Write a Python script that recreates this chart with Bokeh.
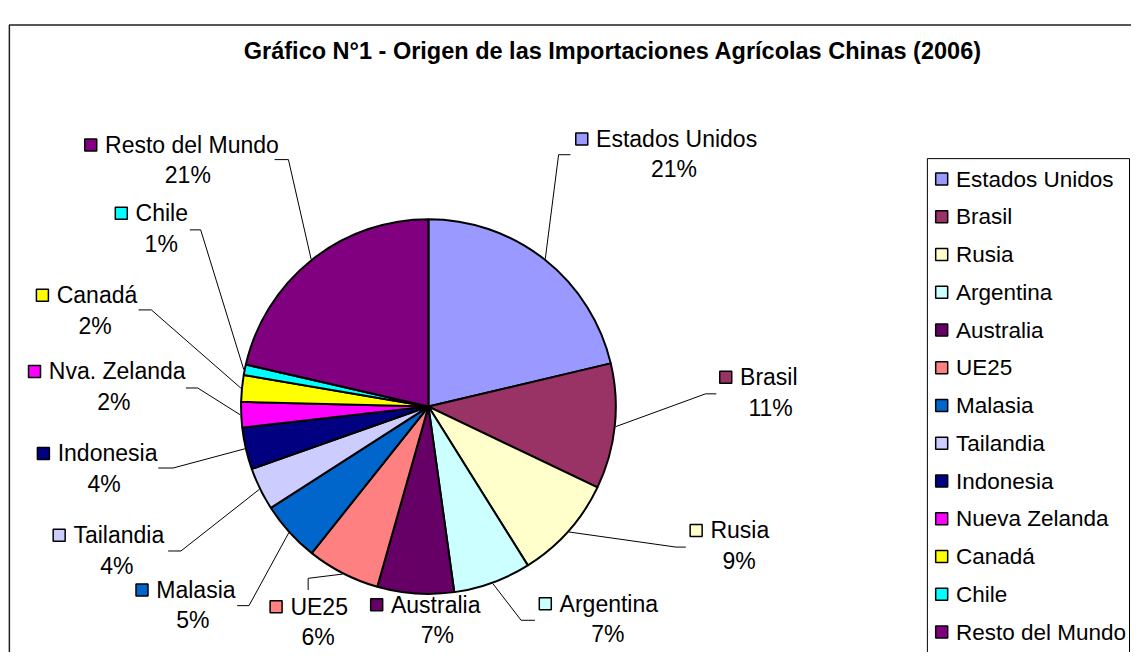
import math
from bokeh.plotting import figure
from bokeh.models import Range1d
from bokeh.core.properties import value
from bokeh.embed import file_html
from bokeh.resources import INLINE

# ---------------- data ----------------
title = "Gráfico N°1 - Origen de las Importaciones Agrícolas Chinas (2006)"
countries = ["Estados Unidos", "Brasil", "Rusia", "Argentina", "Australia", "UE25",
             "Malasia", "Tailandia", "Indonesia", "Nueva Zelanda", "Canadá", "Chile",
             "Resto del Mundo"]
label_names = ["Estados Unidos", "Brasil", "Rusia", "Argentina", "Australia", "UE25",
               "Malasia", "Tailandia", "Indonesia", "Nva. Zelanda", "Canadá", "Chile",
               "Resto del Mundo"]
shares = [21.3, 10.8, 9.0, 6.7, 6.6, 6.3, 5.2, 3.7, 3.6, 2.2, 2.3, 0.9, 21.4]
colors = ["#9999FF", "#993366", "#FFFFCC", "#CCFFFF", "#660066", "#FF8080", "#0066CC",
          "#CCCCFF", "#000080", "#FF00FF", "#FFFF00", "#00FFFF", "#800080"]

# ---------------- layout ----------------
W, H = 1131, 652
SX, SY = W / 1147, H / 668          # reference-window pixels -> canvas pixels

def PX(v):
    return v * SX

def PY(v):
    return H - v * SY

CX, CY, R = 434, 416, 191
RR = R * (SX + SY) / 2
FONT = value("Liberation Sans")
FS = "23px"

sq_x = [583, 729, 699, 546, 375, 273, 137, 53, 37, 28, 36, 116, 85]
name_y = [142, 386, 543, 618, 619, 621, 604, 548, 464, 380, 302, 218, 148]
pct_x = [683, 781, 749, 616, 443, 322, 195, 118, 105, 115, 96, 163, 190]
leader_elbow = [(566, 158), (715, 403), (685, 560), (528, 635), None, (312, 592),
                (252, 620), (183, 564), (175, 479), (200, 397), (153, 317), (203, 235), (292, 163)]
leader_end = [(578, 158), (726, 403), (695, 560), (542, 635), None, (312, 604),
              (240, 620), (170, 564), (160, 479), (188, 397), (140, 317), (192, 235), (278, 163)]

p = figure(width=W, height=H, x_range=Range1d(0, W), y_range=Range1d(0, H),
           output_backend="svg", toolbar_location=None, min_border=0,
           x_axis_type=None, y_axis_type=None)
p.xgrid.visible = False
p.ygrid.visible = False
p.outline_line_color = None
p.background_fill_color = "white"
p.border_fill_color = "white"

# chart frame
p.quad(left=[PX(9)], right=[W + 50], top=[PY(25)], bottom=[-50], fill_color=None,
       line_color="#202020", line_width=1.5)

# title
p.text(x=[PX(621)], y=[PY(52)], text=[title], text_font=FONT, text_font_size="23.5px",
       text_font_style="bold", text_align="center", text_baseline="middle", text_color="black")

# pie
total = sum(shares)
starts, ends, mids = [], [], []
cum = 0.0
for s in shares:
    a0 = math.pi / 2 - 2 * math.pi * cum / total
    cum += s
    a1 = math.pi / 2 - 2 * math.pi * cum / total
    starts.append(a1)
    ends.append(a0)
    mids.append((a0 + a1) / 2)
n = len(shares)
p.wedge(x=[PX(CX)] * n, y=[PY(CY)] * n, radius=RR,
        start_angle=starts, end_angle=ends, fill_color=colors,
        line_color="black", line_width=2)

pcts = [f"{int(s / total * 100 + 0.5)}%" for s in shares]

# leader lines
xs, ys = [], []
for m, el, en in zip(mids, leader_elbow, leader_end):
    if el is None:
        continue
    sx = PX(CX) + (RR + 1) * math.cos(m)
    sy = PY(CY) + (RR + 1) * math.sin(m)
    xs.append([sx, PX(el[0]), PX(en[0])])
    ys.append([sy, PY(el[1]), PY(en[1])])
p.multi_line(xs=xs, ys=ys, line_color="black", line_width=1)

# data labels
p.rect(x=[PX(x + 6.5) for x in sq_x], y=[PY(v) for v in name_y], width=12, height=12,
       fill_color=colors, line_color="black", line_width=1.5)
p.text(x=[PX(x + 21) for x in sq_x], y=[PY(v) for v in name_y], text=label_names,
       text_font=FONT, text_font_size=FS, text_align="left", text_baseline="middle",
       text_color="black")
p.text(x=[PX(v) for v in pct_x], y=[PY(v + 31) for v in name_y], text=pcts,
       text_font=FONT, text_font_size=FS, text_align="center", text_baseline="middle",
       text_color="black")

# legend box
LX, LT = 940, 162
p.quad(left=[PX(LX)], right=[W - 2], top=[PY(LT)], bottom=[-50], fill_color="white",
       line_color="black", line_width=1)
leg_y = [183 + i * 38.67 for i in range(n)]
p.rect(x=[PX(LX + 14.5)] * n, y=[PY(v) for v in leg_y], width=12, height=12,
       fill_color=colors, line_color="black", line_width=1.5)
p.text(x=[PX(LX + 29)] * n, y=[PY(v) for v in leg_y], text=countries,
       text_font=FONT, text_font_size="22.5px", text_align="left", text_baseline="middle",
       text_color="black")

open("out.html", "w").write(file_html(p, INLINE))
